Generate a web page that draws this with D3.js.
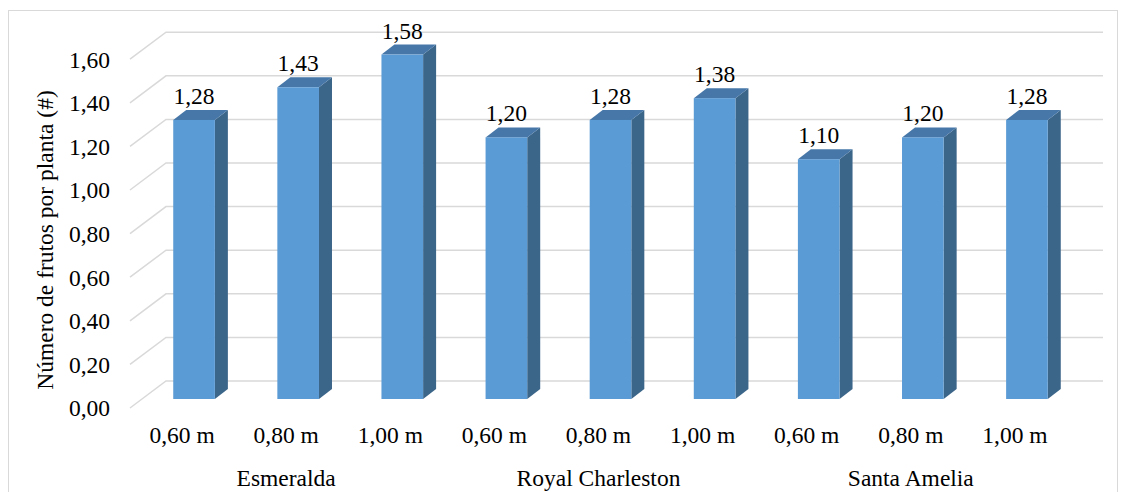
<!DOCTYPE html>
<html><head><meta charset="utf-8">
<script src="https://cdn.jsdelivr.net/npm/d3@7"></script>
<style>body{margin:0;background:#fff}svg{display:block}</style>
</head><body>
<svg id="c" width="1126" height="492" font-family="'Liberation Serif', 'Times New Roman', Tinos, 'DejaVu Serif', serif"></svg>
<script>
const groups = ["Esmeralda","Royal Charleston","Santa Amelia"];
const spacings = ["0,60 m","0,80 m","1,00 m"];
const values = [1.28,1.43,1.58,1.20,1.28,1.38,1.10,1.20,1.28];
const yTicks = [0,0.2,0.4,0.6,0.8,1.0,1.2,1.4,1.6];
const yTitle = "Número de frutos por planta (#)";

const svg = d3.select("#c");
const fs = 23.5;
const fmt = v => v.toFixed(2).replace(".", ",");
const cats = [];
groups.forEach((g,gi)=>spacings.forEach((s,si)=>cats.push({key:gi+"-"+si,g,s,v:values[gi*3+si]})));

const depthX = 36, depthY = 27;
const barOffX = 12, barOffY = 9;
const barDX = 13, barDY = 10;

const x = d3.scaleBand().domain(cats.map(d=>d.key)).range([130,1067]).padding(0);
const y = d3.scaleLinear().domain([0,1.6]).range([408,59.2]);

svg.append("rect").attr("x",8.5).attr("y",10.5).attr("width",1109).attr("height",500)
  .attr("fill","none").attr("stroke","#D9D9D9").attr("stroke-width",1);

const grid = svg.append("g").attr("stroke","#D9D9D9").attr("stroke-width",1.5).attr("fill","none");
yTicks.forEach(t=>{
  grid.append("path").attr("d",`M130,${y(t)}L${130+depthX},${y(t)-depthY}L${1067+depthX},${y(t)-depthY}`);
});

svg.append("g").selectAll("text").data(yTicks).join("text")
  .attr("x",110).attr("y",d=>y(d)).attr("dy","0.36em").attr("text-anchor","end")
  .attr("font-size",fs).text(fmt);

svg.append("text").attr("transform",`translate(53,240) rotate(-90)`).attr("text-anchor","middle")
  .attr("font-size",fs).text(yTitle);

const w = x.bandwidth()*0.4;
const bars = svg.append("g");
cats.forEach(d=>{
  const x0 = x(d.key)+x.bandwidth()/2+barOffX-w/2;
  const yt = y(d.v)-barOffY, yb = y(0)-barOffY;
  bars.append("path").attr("fill","#3B6589")
    .attr("d",`M${x0+w},${yt}L${x0+w+barDX},${yt-barDY}L${x0+w+barDX},${yb-barDY}L${x0+w},${yb}Z`);
  bars.append("path").attr("fill","#4677A8")
    .attr("d",`M${x0},${yt}L${x0+barDX},${yt-barDY}L${x0+w+barDX},${yt-barDY}L${x0+w},${yt}Z`);
  bars.append("rect").attr("x",x0).attr("y",yt).attr("width",w).attr("height",yb-yt).attr("fill","#5B9BD5");
  bars.append("text").attr("x",x0+w/2).attr("y",yt-barDY-6).attr("text-anchor","middle")
    .attr("font-size",fs).text(fmt(d.v));
});

svg.append("g").selectAll("text").data(cats).join("text")
  .attr("x",d=>x(d.key)+x.bandwidth()/2).attr("y",443).attr("text-anchor","middle")
  .attr("font-size",fs).text(d=>d.s);
svg.append("g").selectAll("text").data(groups).join("text")
  .attr("x",(d,i)=>x(i+"-1")+x.bandwidth()/2).attr("y",486).attr("text-anchor","middle")
  .attr("font-size",fs).text(d=>d);
</script>
</body></html>
